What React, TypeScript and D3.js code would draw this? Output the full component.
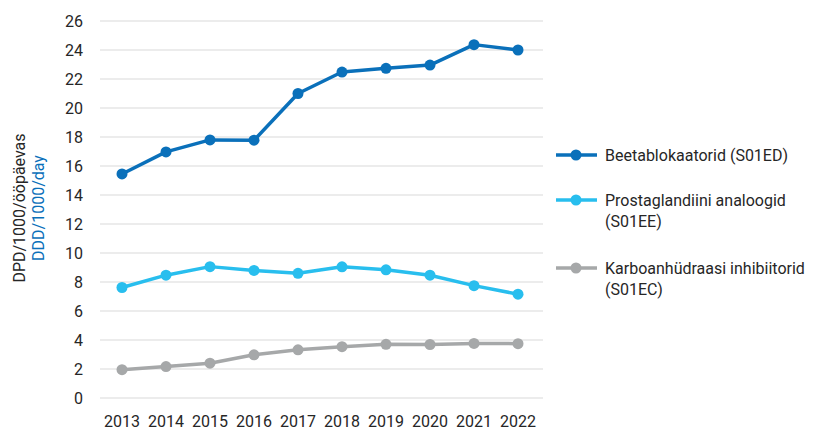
import React from "react";
import * as d3 from "d3";

const years = ["2013", "2014", "2015", "2016", "2017", "2018", "2019", "2020", "2021", "2022"];
const beeta = [15.45, 16.97, 17.8, 17.78, 21.0, 22.48, 22.74, 22.96, 24.37, 24.0];
const prosta = [7.62, 8.47, 9.06, 8.8, 8.6, 9.05, 8.84, 8.47, 7.75, 7.16];
const karbo = [1.95, 2.17, 2.4, 2.98, 3.32, 3.54, 3.7, 3.69, 3.76, 3.75];
const yTicks = [0, 2, 4, 6, 8, 10, 12, 14, 16, 18, 20, 22, 24, 26];
const seriesNames = [
  ["Beetablokaatorid (S01ED)"],
  ["Prostaglandiini analoogid", "(S01EE)"],
  ["Karboanhüdraasi inhibiitorid", "(S01EC)"],
];
const colors = ["#0A70BA", "#28BEEE", "#A6A8A9"];

export default function App() {
  const W = 815, H = 430;
  const x = d3.scaleBand<string>().domain(years).range([100, 540]);
  const y = d3.scaleLinear().domain([0, 26]).range([398, 21]);
  const series = [beeta, prosta, karbo];
  const line = d3
    .line<number>()
    .x((_, i) => (x(years[i]) as number) + x.bandwidth() / 2)
    .y((d) => y(d));
  const font = "Roboto, sans-serif";
  const legendY = [155, 200, 268];
  return (
    <div style={{ position: "absolute", left: 0, top: 0 }}>
      <svg width={W} height={H} style={{ display: "block", fontFamily: font }}>
        <rect width={W} height={H} fill="#fff" />
        {yTicks.map((t) => (
          <g key={t}>
            <line x1={100} x2={543} y1={y(t)} y2={y(t)} stroke="#D9D9D9" strokeWidth={1.2} />
            <text x={83} y={y(t)} dy="0.36em" textAnchor="end" fontSize={16} fill="#262626">
              {t}
            </text>
          </g>
        ))}
        {years.map((yr) => (
          <text
            key={yr}
            x={(x(yr) as number) + x.bandwidth() / 2}
            y={427}
            textAnchor="middle"
            fontSize={16}
            fill="#262626"
          >
            {yr}
          </text>
        ))}
        <text transform="translate(25,208) rotate(-90)" textAnchor="middle" fontSize={16} fill="#262626">
          DPD/1000/ööpäevas
        </text>
        <text transform="translate(44,208) rotate(-90)" textAnchor="middle" fontSize={16} fill="#0A70BA">
          DDD/1000/day
        </text>
        {series.map((s, si) => (
          <g key={si}>
            <path d={line(s) || ""} fill="none" stroke={colors[si]} strokeWidth={3.5} strokeLinejoin="round" />
            {s.map((v, i) => (
              <circle
                key={i}
                cx={(x(years[i]) as number) + x.bandwidth() / 2}
                cy={y(v)}
                r={5.5}
                fill={colors[si]}
              />
            ))}
          </g>
        ))}
        {seriesNames.map((lines, si) => (
          <g key={si}>
            <line x1={556} x2={597} y1={legendY[si]} y2={legendY[si]} stroke={colors[si]} strokeWidth={3.5} />
            <circle cx={576} cy={legendY[si]} r={5.5} fill={colors[si]} />
            {lines.map((l, li) => (
              <text key={li} x={605} y={legendY[si] + li * 21} dy="0.36em" fontSize={16} fill="#262626">
                {l}
              </text>
            ))}
          </g>
        ))}
      </svg>
    </div>
  );
}
